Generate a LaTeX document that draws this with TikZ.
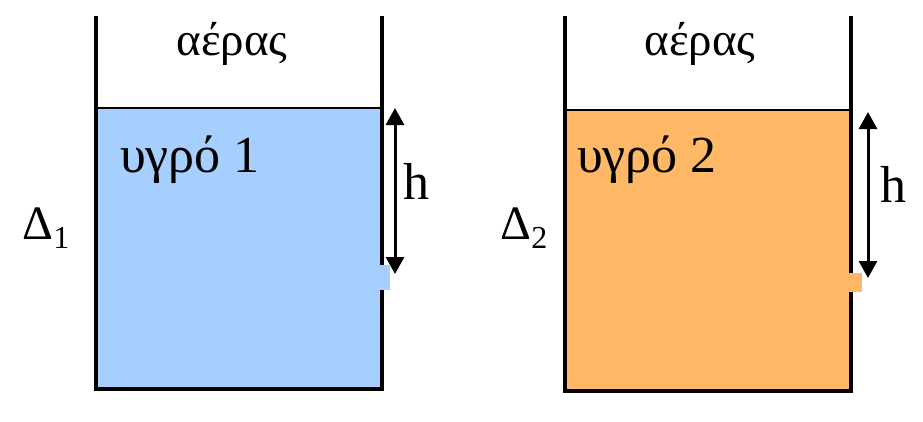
\documentclass[tikz,border=0pt]{standalone}
\usepackage{fontspec}
\setmainfont{Liberation Serif}
\usetikzlibrary{arrows.meta}
\definecolor{liqone}{RGB}{166,207,255}
\definecolor{liqtwo}{RGB}{255,184,102}
\newcommand{\dsub}[1]{\raisebox{-9pt}{\fontsize{32}{32}\selectfont #1}}
\tikzset{
 wall/.style={line width=3.4pt,black},
 harrow/.style={line width=3pt,{Triangle[width=18pt,length=17pt]}-{Triangle[width=18pt,length=17pt]}},
 airtext/.style={font=\fontsize{47}{47}\selectfont},
 liqtext/.style={font=\fontsize{52}{52}\selectfont,anchor=west,inner sep=0pt},
 htext/.style={font=\fontsize{52}{52}\selectfont},
 dtext/.style={font=\fontsize{48}{48}\selectfont,inner sep=0pt},
}
\begin{document}
\begin{tikzpicture}[x=1pt,y=-1pt]
 \useasboundingbox (0,0) rectangle (923,421);
 % tank 1
 \fill[liqone](96,108) rectangle (382,388);
 \fill[liqone](380,265) rectangle (390,290);
 \draw[wall](96,16)--(96,389)--(382,389)--(382,290);
 \draw[wall](382,265)--(382,16);
 \draw[line width=2.6pt](96,108)--(382,108);
 \coordinate (top1) at (395,108);
 \coordinate (hole1) at (395,274);
 \draw[harrow](top1)--(hole1);
 \node[htext] (h1) at (416,181) {h};
 \node[airtext] (air1) at (232,44) {αέρας};
 \node[liqtext] (liq1) at (120,160) {υγρό 1};
 \node[dtext] (d1) at (46,228) {Δ\dsub{1}};
 % tank 2
 \fill[liqtwo](565,110) rectangle (851,390);
 \fill[liqtwo](849,273) rectangle (862,292);
 \draw[wall](565,16)--(565,391)--(851,391)--(851,292);
 \draw[wall](851,273)--(851,16);
 \draw[line width=2.6pt](565,110)--(851,110);
 \coordinate (top2) at (868,112);
 \coordinate (hole2) at (868,278);
 \draw[harrow](top2)--(hole2);
 \node[htext] (h2) at (893,184) {h};
 \node[airtext] (air2) at (700,44) {αέρας};
 \node[liqtext] (liq2) at (577,160) {υγρό 2};
 \node[dtext] (d2) at (524,228) {Δ\dsub{2}};
\end{tikzpicture}
\end{document}
